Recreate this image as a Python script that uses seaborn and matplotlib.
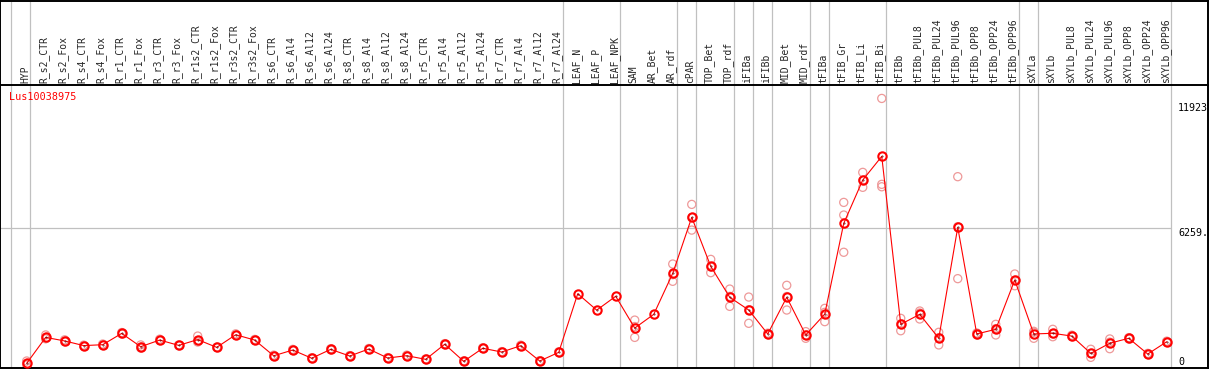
import matplotlib
matplotlib.use('Agg')
import matplotlib.pyplot as plt
import matplotlib.transforms as mtransforms
import seaborn as sns
import numpy as np
import pandas as pd

# ------------------------------------------------------------------ #
# Données
# ------------------------------------------------------------------ #
gene = 'Lus10038975'

samples = ['HYP', 'R_s2_CTR', 'R_s2_Fox', 'R_s4_CTR', 'R_s4_Fox', 'R_r1_CTR',
           'R_r1_Fox', 'R_r3_CTR', 'R_r3_Fox', 'R_r1s2_CTR', 'R_r1s2_Fox',
           'R_r3s2_CTR', 'R_r3s2_Fox', 'R_s6_CTR', 'R_s6_Al4', 'R_s6_Al12',
           'R_s6_Al24', 'R_s8_CTR', 'R_s8_Al4', 'R_s8_Al12', 'R_s8_Al24',
           'R_r5_CTR', 'R_r5_Al4', 'R_r5_Al12', 'R_r5_Al24', 'R_r7_CTR',
           'R_r7_Al4', 'R_r7_Al12', 'R_r7_Al24', 'LEAF_N', 'LEAF_P', 'LEAF_NPK',
           'SAM', 'AR_Bet', 'AR_rdf', 'cPAR', 'TOP_Bet', 'TOP_rdf', 'iFIBa',
           'iFIBb', 'MID_Bet', 'MID_rdf', 'tFIBa', 'tFIB_Gr', 'tFIB_Li',
           'tFIB_Bi', 'tFIBb', 'tFIBb_PUL8', 'tFIBb_PUL24', 'tFIBb_PUL96',
           'tFIBb_OPP8', 'tFIBb_OPP24', 'tFIBb_OPP96', 'sXYLa', 'sXYLb',
           'sXYLb_PUL8', 'sXYLb_PUL24', 'sXYLb_PUL96', 'sXYLb_OPP8',
           'sXYLb_OPP24', 'sXYLb_OPP96']

# taille des groupes (séparés par les lignes verticales)
group_sizes = [1, 28, 3, 3, 1, 2, 1, 1, 2, 1, 3, 7, 1, 7]

means = [170, 1340, 1180, 970, 1010, 1520, 920, 1220, 980, 1240, 890,
         1460, 1220, 510, 770, 400, 800, 500, 815, 410, 515,
         350, 1030, 260, 850, 680, 965, 275, 665, 3310, 2570, 3195,
         1760, 2380, 4230, 6755, 4545, 3150, 2575,
         1495, 3150, 1450, 2390, 6485, 8440,
         9505, 1930, 2380, 1300, 6305,
         1495, 1705, 3930, 1495, 1525,
         1400, 620, 1075, 1300, 590, 1145]

nan = np.nan
rep_a = [275, 1450, 1230, 990, 1040, 1560, 1000, 1260, 1000, 1400, 900,
         1500, 1250, 540, 800, 420, 830, 520, 840, 430, 540,
         370, 1060, 280, 870, 700, 990, 290, 690, nan, nan, nan,
         2120, nan, 4650, 7340, 4860, 3520, 3160,
         1530, 3690, 1600, 2650, 7430, 8785,
         12120, 2200, 2530, 1570, 8590,
         1540, 1930, 4200, 1570, 1705,
         1440, 805, 1270, 1330, 620, 1170]
rep_b = [95, 1290, 1140, 950, 990, 1500, 860, 1200, 960, 1130, 880,
         1440, 1200, 490, 750, 380, 780, 480, 800, 395, 500,
         335, 1010, 245, 835, 665, 950, 260, 650, nan, nan, nan,
         1340, nan, 3870, 6180, 4260, 2740, 1975,
         1460, 2575, 1300, 2050, 6860, 8110,
         8245, 1640, 2170, 1000, 3990,
         1450, 1450, 3670, 1300, 1370,
         1370, 440, 830, 1270, 565, 1120]
rep_c = [140, 1280, 1170, 970, 1000, 1500, 900, 1200, 980, 1190, 890,
         1440, 1210, 500, 760, 400, 790, 500, 805, 405, 505,
         345, 1020, 255, 845, 675, 955, 275, 655, nan, nan, nan,
         1830, nan, 4170, 6745, 4515, 3190, 2590,
         1495, 3185, 1450, 2470, 5180, 8425,
         8135, 1950, 2440, 1330, 6335,
         1495, 1735, 3920, 1615, 1500,
         1390, 615, 1125, 1300, 585, 1145]

axis_labels = ['11923', '6259.', '0']
axis_values = [11923, 6259, 0]

# ------------------------------------------------------------------ #
# Mise en forme
# ------------------------------------------------------------------ #
sns.set_style('white')
plt.rcParams['font.family'] = ['DejaVu Sans Mono', 'DejaVu Sans']

W, H = 1209, 370
fig = plt.figure(figsize=(W / 100, H / 100), dpi=100)
head_h = 85
ax_head = fig.add_axes([0, (H - head_h) / H, 1208 / W, head_h / H - 0.5 / H])
ax = fig.add_axes([0, 2 / H, 1208 / W, (368 - head_h) / H])

pos = np.arange(len(samples))
df_mean = pd.DataFrame({'pos': pos, 'value': means})
df_rep = pd.DataFrame({'pos': np.tile(pos, 3),
                       'value': rep_a + rep_b + rep_c}).dropna()

xlim = (-1.405, 62.17)
ymax = np.nanmax(df_rep['value']) * 1.05
ylim = (-ymax * 0.0032, ymax)

grid_col = '#c0c0c0'
bounds = np.cumsum([0] + group_sizes) - 0.8
for a in (ax, ax_head):
    for b in bounds:
        a.axvline(b, color=grid_col, linewidth=0.9, zorder=0)
    a.set_xlim(*xlim)
    a.set_xticks([])
    a.set_yticks([])
    for s in a.spines.values():
        s.set_color('black')
        s.set_linewidth(1.4)
ax_head.spines['bottom'].set_visible(False)

ax.hlines(axis_values[1], xlim[0], bounds[-1], color=grid_col,
          linewidth=0.9, zorder=0)

sns.scatterplot(data=df_rep, x='pos', y='value', ax=ax, marker='o', s=34,
                facecolor='none', edgecolor='#ee9999', linewidth=0.9,
                zorder=2, legend=False)
sns.lineplot(data=df_mean, x='pos', y='value', ax=ax, color='red',
             linewidth=0.8, marker='o', markersize=6, mfc='none',
             mec='red', mew=1.5, zorder=3)
ax.plot(df_mean['pos'], df_mean['value'], linestyle='none', marker='.',
        markersize=0.8, color='#600000', zorder=4)

ax.set_ylim(*ylim)
ax.set_xlabel('')
ax.set_ylabel('')

# étiquettes de l'axe de droite
for lab, val in zip(axis_labels, axis_values):
    ax.text(60.6, val, lab, fontsize=7.2, ha='left',
            va='bottom' if val == 0 else 'top', color='black')

# noms des échantillons (en-tête)
trans = mtransforms.blended_transform_factory(ax_head.transData,
                                              ax_head.transAxes)
for p, name in zip(pos, samples):
    ax_head.text(p - 0.08, 0.025, name, rotation=90, ha='center',
                 va='bottom', fontsize=7, transform=trans)

fig.text(9 / W, 1 - 97 / H, gene, color='red', fontsize=7.3,
         ha='left', va='center')

fig.savefig('out.png', dpi=100)
